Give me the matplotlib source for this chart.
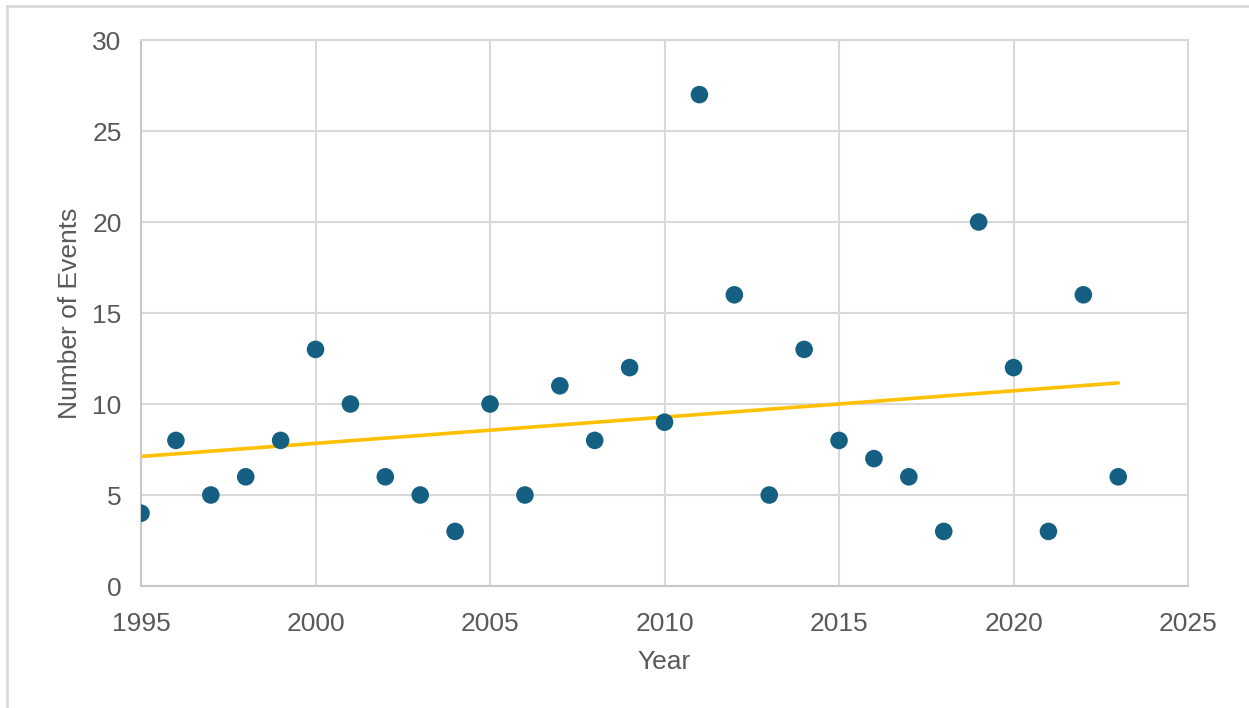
import numpy as np
import matplotlib
matplotlib.use("Agg")
import matplotlib.pyplot as plt
from matplotlib.lines import Line2D

years = [1995, 1996, 1997, 1998, 1999, 2000, 2001, 2002, 2003, 2004,
         2005, 2006, 2007, 2008, 2009, 2010, 2011, 2012, 2013, 2014,
         2015, 2016, 2017, 2018, 2019, 2020, 2021, 2022, 2023]
events = [4, 8, 5, 6, 8, 13, 10, 6, 5, 3,
          10, 5, 11, 8, 12, 9, 27, 16, 5, 13,
          8, 7, 6, 3, 20, 12, 3, 16, 6]

x_ticks = [1995, 2000, 2005, 2010, 2015, 2020, 2025]
y_ticks = [0, 5, 10, 15, 20, 25, 30]

grid_col = "#d9d9d9"
text_col = "#595959"

plt.rcParams['font.family'] = ['Liberation Sans', 'DejaVu Sans']

fig = plt.figure(figsize=(12.49, 7.08), dpi=100)
ax = fig.add_axes([0.1129, 0.1723, 0.8383, 0.7712])

# linear trend line over the data range
slope, intercept = np.polyfit(years, events, 1)
xs = np.array([years[0], years[-1]])
ax.plot(xs, slope * xs + intercept, color="#FFC000", linewidth=2.6,
        solid_capstyle="round", zorder=2)

ax.scatter(years, events, s=160, color="#156082", edgecolors="none", zorder=3)

ax.set_xlim(1995, 2025)
ax.set_ylim(0, 30)
ax.set_xticks(x_ticks)
ax.set_yticks(y_ticks)
ax.grid(True, color=grid_col, linewidth=1.5)
ax.set_axisbelow(True)
for sp in ax.spines.values():
    sp.set_color(grid_col)
    sp.set_linewidth(1.5)
ax.spines['left'].set_color("#c8c8c8")
ax.spines['bottom'].set_color("#c8c8c8")
ax.tick_params(length=0, labelsize=19, colors=text_col)
ax.tick_params(axis='x', pad=19)
ax.tick_params(axis='y', pad=14)

ax.set_xlabel("Year", fontsize=19, color=text_col, labelpad=10)
ax.set_ylabel("Number of Events", fontsize=19, color=text_col, labelpad=7)

# chart frame
fig.add_artist(Line2D([0.0056, 1.0], [0.9915, 0.9915], transform=fig.transFigure,
                      color=grid_col, linewidth=2))
fig.add_artist(Line2D([0.0056, 0.0056], [0.0, 0.9915], transform=fig.transFigure,
                      color=grid_col, linewidth=2))

fig.savefig("out.png", dpi=100, facecolor="white")
